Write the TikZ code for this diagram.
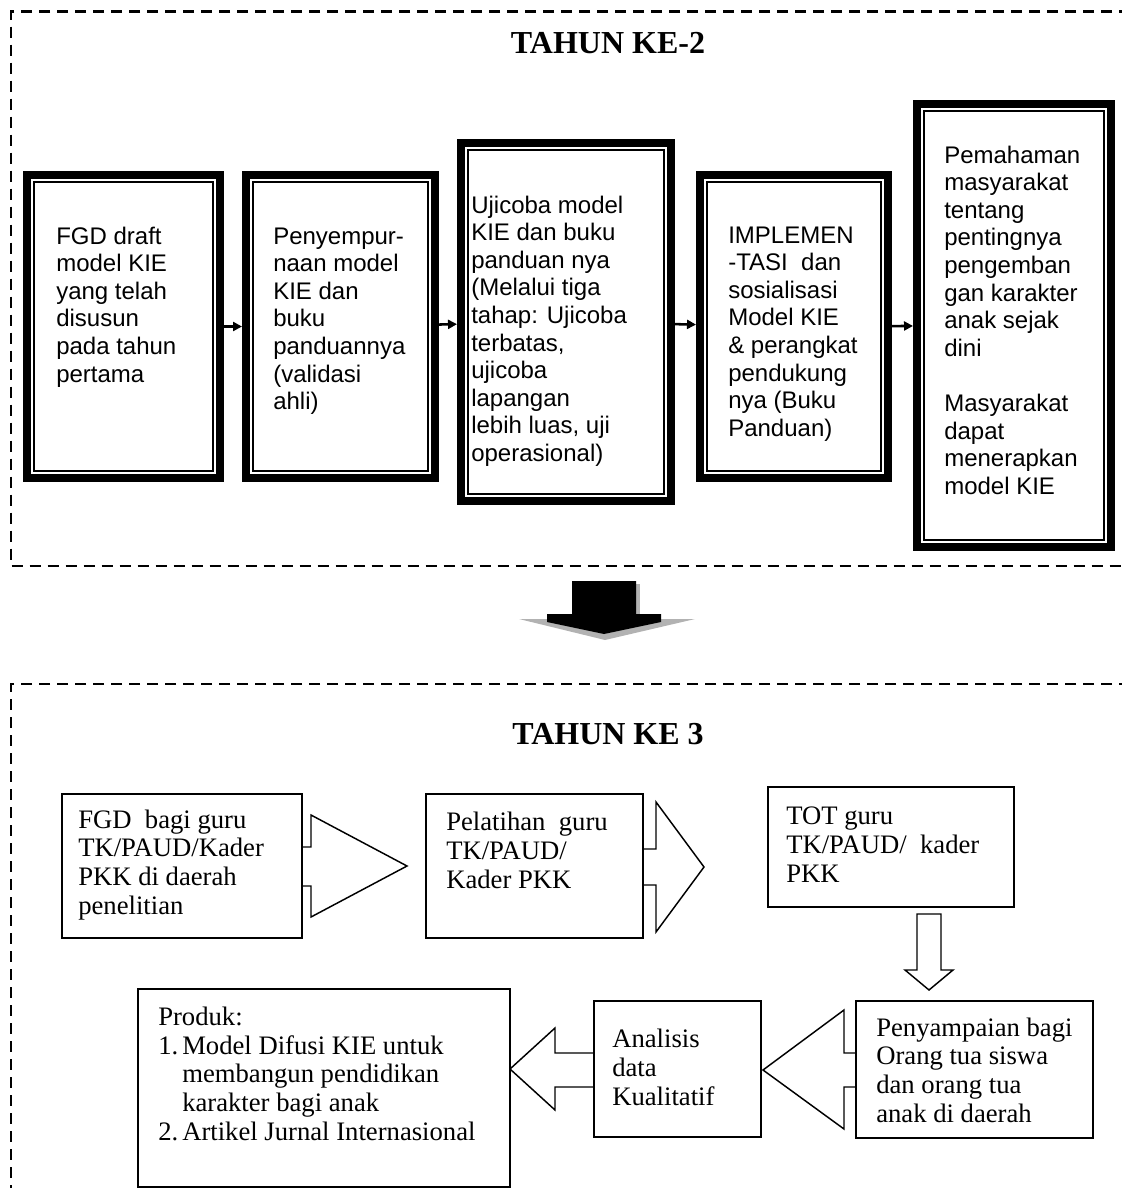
\documentclass[tikz,border=0pt]{standalone}
\usepackage{fontspec}
\setmainfont{Liberation Serif}
\newfontfamily\arialfont{Liberation Sans}
\usetikzlibrary{arrows.meta}

\begin{document}
\begin{tikzpicture}[x=0.75pt,y=-0.75pt]
		\tikzstyle{dblbox}=[draw,line width=6pt,fill=white,inner sep=0pt,
		path picture={\draw[line width=1.8pt]
			([shift={(5.4pt,-5.4pt)}]path picture bounding box.north west) rectangle
			([shift={(-5.4pt,5.4pt)}]path picture bounding box.south east);}]
		\tikzstyle{plainbox}=[draw,line width=1.1pt,fill=white,inner sep=0pt]
		\tikzstyle{blockarrow}=[draw,line width=1.1pt,fill=white,line join=miter]
		% text nodes sit on the baseline of their last line
		\tikzstyle{sanstext}=[font=\arialfont\fontsize{18}{20.7}\selectfont,align=left,inner sep=0pt,anchor=base west]
		\tikzstyle{seriftext}=[font=\fontsize{20}{21.5}\selectfont,align=left,inner sep=0pt,anchor=base west]
		\tikzstyle{yeartitle}=[font=\bfseries\fontsize{24}{28}\selectfont,inner sep=0pt,anchor=base]
		\tikzstyle{yearframe}=[dash pattern=on 8.25pt off 5.25pt,line width=2pt]
		\useasboundingbox (0,0) rectangle (1121,1188);
		% tahun ke-2
		\draw[yearframe] (1130,11.7) -- (11,11.7) -- (11,566) -- (1130,566);
		\node[yeartitle](y2)at(608,53.3){TAHUN KE-2};
		\node[dblbox,minimum width=144.75pt,minimum height=227.25pt](b1)at(123.5,326.5){};
		\node[dblbox,minimum width=141.75pt,minimum height=227.25pt](b2)at(340.5,326.5){};
		\node[dblbox,minimum width=157.5pt,minimum height=268.5pt](b3)at(566,322){};
		\node[dblbox,minimum width=141pt,minimum height=227.25pt](b4)at(794,326.5){};
		\node[dblbox,minimum width=145.5pt,minimum height=332.25pt](b5)at(1014,325.5){};
		\node[sanstext](t1)at(56,382){FGD draft\\model KIE\\yang telah\\disusun\\pada tahun\\pertama};
		\node[sanstext](t2)at(273,409.6){Penyempur-\\naan model\\KIE dan\\buku\\panduannya\\(validasi\\ahli)};
		\node[sanstext](t3)at(471,461.4){Ujicoba model\\KIE dan buku\\panduan nya\\(Melalui tiga\\tahap: Ujicoba\\terbatas,\\ujicoba\\lapangan\\lebih luas, uji\\operasional)};
		\node[sanstext](t4)at(728,436.2){IMPLEMEN\\-TASI\ \ dan\\sosialisasi\\Model KIE\\\& perangkat\\pendukung\\nya (Buku\\Panduan)};
		\node[sanstext](t5)at(944,494.2){Pemahaman\\masyarakat\\tentang\\pentingnya\\pengemban\\gan karakter\\anak sejak\\dini\\\mbox{}\\Masyarakat\\dapat\\menerapkan\\model KIE};
		\path[-{Triangle[length=6.75pt,width=6.75pt]},line width=1.9pt] (b1) edge (b2)
		(b2) edge (b3)
		(b3) edge (b4)
		(b4) edge (b5);
		% panah besar
		\fill[black!30] (519,619) -- (695,619) -- (605,640) -- cycle;
		\fill[black!30] (636,584) rectangle (640,616);
		\fill (572,581) -- (636,581) -- (636,614) -- (661,614) -- (661,622) -- (604,634) -- (547,622) -- (547,614) -- (572,614) -- cycle;
		% tahun ke 3
		\draw[yearframe] (1130,684) -- (11,684) -- (11,1200);
		\node[yeartitle](y3)at(608,744){TAHUN KE 3};
		\draw[blockarrow] (290,847) -- (311,847) -- (311,815) -- (407,866) -- (311,917) -- (311,886) -- (290,886) -- cycle;
		\draw[blockarrow] (630,849) -- (656,849) -- (656,802) -- (704,867) -- (656,932) -- (656,885) -- (630,885) -- cycle;
		\draw[blockarrow] (917,914) -- (941,914) -- (941,970) -- (953,970) -- (929,990) -- (905,970) -- (917,970) -- cycle;
		\draw[blockarrow] (870,1053) -- (844,1053) -- (844,1010) -- (763,1070) -- (844,1129) -- (844,1087) -- (870,1087) -- cycle;
		\draw[blockarrow] (610,1053) -- (555,1053) -- (555,1028) -- (510,1069) -- (555,1110) -- (555,1087) -- (610,1087) -- cycle;
		\node[plainbox,minimum width=180pt,minimum height=108pt](bA)at(182,866){};
		\node[plainbox,minimum width=162.75pt,minimum height=108pt](bB)at(534.5,866){};
		\node[plainbox,minimum width=184.5pt,minimum height=90pt](bC)at(891,847){};
		\node[plainbox,minimum width=177.75pt,minimum height=102.75pt](bD)at(974.5,1069.5){};
		\node[plainbox,minimum width=125.25pt,minimum height=102pt](bE)at(677.5,1069){};
		\node[plainbox,minimum width=279pt,minimum height=148.5pt](bF)at(324,1088){};
		\node[seriftext](tA)at(78,914){FGD\ \ bagi guru\\TK/PAUD/Kader\\PKK di daerah\\penelitian};
		\node[seriftext](tB)at(446,888){Pelatihan\ \ guru\\TK/PAUD/\\Kader PKK};
		\node[seriftext](tC)at(786,882){TOT guru\\TK/PAUD/\ \ kader\\PKK};
		\node[seriftext](tD)at(876,1122){Penyampaian bagi\\Orang tua siswa\\dan orang tua\\anak di daerah};
		\node[seriftext](tE)at(612,1105){Analisis\\data\\Kualitatif};
		\node[seriftext](tF)at(158,1140){Produk:\\\makebox[18pt][l]{1.}Model Difusi KIE untuk\\\hspace*{18pt}membangun pendidikan\\\hspace*{18pt}karakter bagi anak\\\makebox[18pt][l]{2.}Artikel Jurnal Internasional};
\end{tikzpicture}
\end{document}
